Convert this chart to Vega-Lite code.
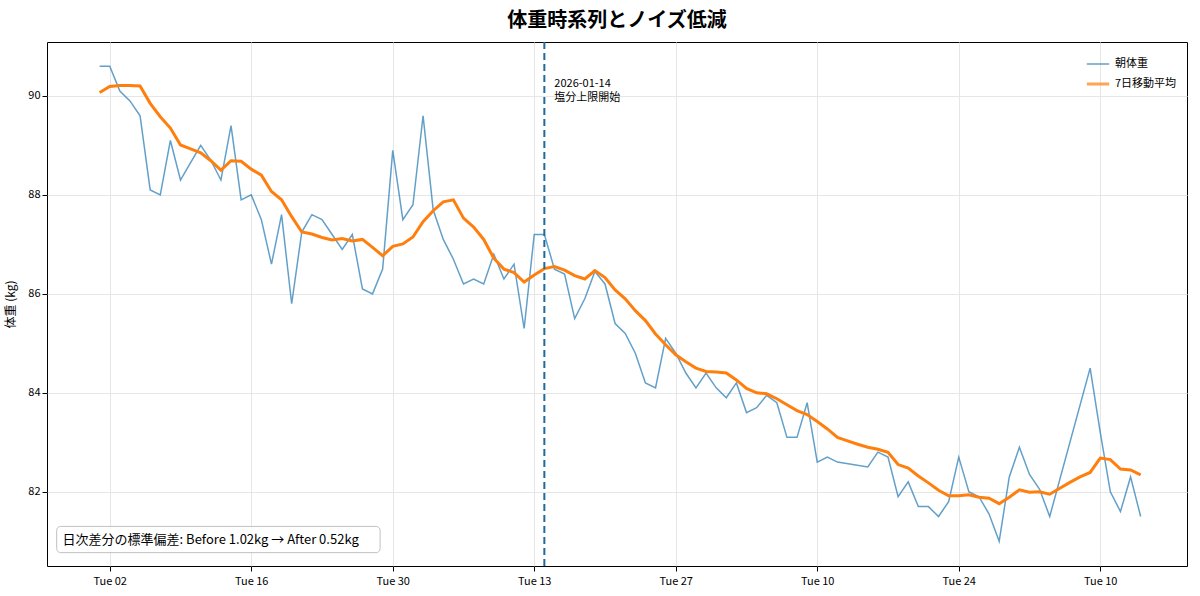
{
"$schema":"https://vega.github.io/schema/vega-lite/v6.json",
"width":1140,"height":524,
"autosize":{"type":"none"},
"padding":{"left":47,"top":42,"right":13,"bottom":30},
"background":"white",
"config":{"font":"Noto Sans CJK JP","view":{"stroke":"black","strokeWidth":1}},
"title":{"text":"体重時系列とノイズ低減","fontSize":20,"fontWeight":"bold","font":"Noto Sans CJK JP","offset":10,"color":"black"},
"datasets":{
"w":[
{"d":"2025-12-01","v":90.6},{"d":"2025-12-02","v":90.6},{"d":"2025-12-03","v":90.1},{"d":"2025-12-04","v":89.9},{"d":"2025-12-05","v":89.6},{"d":"2025-12-06","v":88.1},{"d":"2025-12-07","v":88.0},{"d":"2025-12-08","v":89.1},{"d":"2025-12-09","v":88.3},{"d":"2025-12-10","v":88.65},{"d":"2025-12-11","v":89.0},{"d":"2025-12-12","v":88.7},{"d":"2025-12-13","v":88.3},{"d":"2025-12-14","v":89.4},{"d":"2025-12-15","v":87.9},{"d":"2025-12-16","v":88.0},{"d":"2025-12-17","v":87.5},{"d":"2025-12-18","v":86.6},{"d":"2025-12-19","v":87.6},{"d":"2025-12-20","v":85.8},{"d":"2025-12-21","v":87.25},{"d":"2025-12-22","v":87.6},{"d":"2025-12-23","v":87.5},{"d":"2025-12-24","v":87.2},{"d":"2025-12-25","v":86.9},{"d":"2025-12-26","v":87.2},{"d":"2025-12-27","v":86.1},{"d":"2025-12-28","v":86.0},{"d":"2025-12-29","v":86.5},{"d":"2025-12-30","v":88.9},{"d":"2025-12-31","v":87.5},{"d":"2026-01-01","v":87.8},{"d":"2026-01-02","v":89.6},{"d":"2026-01-03","v":87.7},{"d":"2026-01-04","v":87.1},{"d":"2026-01-05","v":86.7},{"d":"2026-01-06","v":86.2},{"d":"2026-01-07","v":86.3},{"d":"2026-01-08","v":86.2},{"d":"2026-01-09","v":86.8},{"d":"2026-01-10","v":86.3},{"d":"2026-01-11","v":86.6},{"d":"2026-01-12","v":85.3},{"d":"2026-01-13","v":87.2},{"d":"2026-01-14","v":87.2},{"d":"2026-01-15","v":86.5},{"d":"2026-01-16","v":86.4},{"d":"2026-01-17","v":85.5},{"d":"2026-01-18","v":85.9},{"d":"2026-01-19","v":86.45},{"d":"2026-01-20","v":86.2},{"d":"2026-01-21","v":85.4},{"d":"2026-01-22","v":85.2},{"d":"2026-01-23","v":84.8},{"d":"2026-01-24","v":84.2},{"d":"2026-01-25","v":84.1},{"d":"2026-01-26","v":85.1},{"d":"2026-01-27","v":84.8},{"d":"2026-01-28","v":84.4},{"d":"2026-01-29","v":84.1},{"d":"2026-01-30","v":84.4},{"d":"2026-01-31","v":84.1},{"d":"2026-02-01","v":83.9},{"d":"2026-02-02","v":84.2},{"d":"2026-02-03","v":83.6},{"d":"2026-02-04","v":83.7},{"d":"2026-02-05","v":83.95},{"d":"2026-02-06","v":83.8},{"d":"2026-02-07","v":83.1},{"d":"2026-02-08","v":83.1},{"d":"2026-02-09","v":83.8},{"d":"2026-02-10","v":82.6},{"d":"2026-02-11","v":82.7},{"d":"2026-02-12","v":82.6},{"d":"2026-02-15","v":82.5},{"d":"2026-02-16","v":82.8},{"d":"2026-02-17","v":82.7},{"d":"2026-02-18","v":81.9},{"d":"2026-02-19","v":82.2},{"d":"2026-02-20","v":81.7},{"d":"2026-02-21","v":81.7},{"d":"2026-02-22","v":81.5},{"d":"2026-02-23","v":81.8},{"d":"2026-02-24","v":82.7},{"d":"2026-02-25","v":82.0},{"d":"2026-02-26","v":81.9},{"d":"2026-02-27","v":81.55},{"d":"2026-02-28","v":81.0},{"d":"2026-03-01","v":82.3},{"d":"2026-03-02","v":82.9},{"d":"2026-03-03","v":82.35},{"d":"2026-03-04","v":82.05},{"d":"2026-03-05","v":81.5},{"d":"2026-03-09","v":84.5},{"d":"2026-03-10","v":83.2},{"d":"2026-03-11","v":82.0},{"d":"2026-03-12","v":81.6},{"d":"2026-03-13","v":82.3},{"d":"2026-03-14","v":81.5}
],
"m":[
{"d":"2025-12-01","v":90.07},{"d":"2025-12-02","v":90.19},{"d":"2025-12-03","v":90.21},{"d":"2025-12-04","v":90.21},{"d":"2025-12-05","v":90.2},{"d":"2025-12-06","v":89.85},{"d":"2025-12-07","v":89.58},{"d":"2025-12-08","v":89.35},{"d":"2025-12-09","v":89.01},{"d":"2025-12-10","v":88.93},{"d":"2025-12-11","v":88.85},{"d":"2025-12-12","v":88.69},{"d":"2025-12-13","v":88.5},{"d":"2025-12-14","v":88.69},{"d":"2025-12-15","v":88.68},{"d":"2025-12-16","v":88.52},{"d":"2025-12-17","v":88.4},{"d":"2025-12-18","v":88.07},{"d":"2025-12-19","v":87.9},{"d":"2025-12-20","v":87.56},{"d":"2025-12-21","v":87.25},{"d":"2025-12-22","v":87.21},{"d":"2025-12-23","v":87.14},{"d":"2025-12-24","v":87.09},{"d":"2025-12-25","v":87.12},{"d":"2025-12-26","v":87.07},{"d":"2025-12-27","v":87.1},{"d":"2025-12-28","v":86.94},{"d":"2025-12-29","v":86.77},{"d":"2025-12-30","v":86.96},{"d":"2025-12-31","v":87.01},{"d":"2026-01-01","v":87.15},{"d":"2026-01-02","v":87.46},{"d":"2026-01-03","v":87.68},{"d":"2026-01-04","v":87.86},{"d":"2026-01-05","v":87.9},{"d":"2026-01-06","v":87.53},{"d":"2026-01-07","v":87.35},{"d":"2026-01-08","v":87.1},{"d":"2026-01-09","v":86.72},{"d":"2026-01-10","v":86.5},{"d":"2026-01-11","v":86.43},{"d":"2026-01-12","v":86.24},{"d":"2026-01-13","v":86.38},{"d":"2026-01-14","v":86.51},{"d":"2026-01-15","v":86.55},{"d":"2026-01-16","v":86.48},{"d":"2026-01-17","v":86.37},{"d":"2026-01-18","v":86.3},{"d":"2026-01-19","v":86.47},{"d":"2026-01-20","v":86.33},{"d":"2026-01-21","v":86.08},{"d":"2026-01-22","v":85.9},{"d":"2026-01-23","v":85.66},{"d":"2026-01-24","v":85.46},{"d":"2026-01-25","v":85.19},{"d":"2026-01-26","v":84.97},{"d":"2026-01-27","v":84.77},{"d":"2026-01-28","v":84.63},{"d":"2026-01-29","v":84.5},{"d":"2026-01-30","v":84.43},{"d":"2026-01-31","v":84.42},{"d":"2026-02-01","v":84.4},{"d":"2026-02-02","v":84.26},{"d":"2026-02-03","v":84.09},{"d":"2026-02-04","v":84.0},{"d":"2026-02-05","v":83.98},{"d":"2026-02-06","v":83.88},{"d":"2026-02-07","v":83.76},{"d":"2026-02-08","v":83.64},{"d":"2026-02-09","v":83.56},{"d":"2026-02-10","v":83.42},{"d":"2026-02-11","v":83.27},{"d":"2026-02-12","v":83.1},{"d":"2026-02-13","v":83.03},{"d":"2026-02-14","v":82.96},{"d":"2026-02-15","v":82.9},{"d":"2026-02-16","v":82.86},{"d":"2026-02-17","v":82.8},{"d":"2026-02-18","v":82.55},{"d":"2026-02-19","v":82.48},{"d":"2026-02-20","v":82.32},{"d":"2026-02-21","v":82.18},{"d":"2026-02-22","v":82.03},{"d":"2026-02-23","v":81.92},{"d":"2026-02-24","v":81.92},{"d":"2026-02-25","v":81.94},{"d":"2026-02-26","v":81.89},{"d":"2026-02-27","v":81.87},{"d":"2026-02-28","v":81.76},{"d":"2026-03-01","v":81.89},{"d":"2026-03-02","v":82.04},{"d":"2026-03-03","v":81.99},{"d":"2026-03-04","v":82.0},{"d":"2026-03-05","v":81.95},{"d":"2026-03-06","v":82.07},{"d":"2026-03-07","v":82.19},{"d":"2026-03-08","v":82.3},{"d":"2026-03-09","v":82.39},{"d":"2026-03-10","v":82.68},{"d":"2026-03-11","v":82.65},{"d":"2026-03-12","v":82.46},{"d":"2026-03-13","v":82.44},{"d":"2026-03-14","v":82.34}
],
"ann":[{"d":"2026-01-14","t1":"2026-01-14","t2":"塩分上限開始","bx1":"2025-11-26T18:00:00Z","bx2":"2025-12-28T18:00:00Z","tx":"2025-11-27T08:00:00Z","note":"日次差分の標準偏差: Before 1.02kg → After 0.52kg"}]
},
"layer":[
{"data":{"name":"w"},"transform":[{"calculate":"'朝体重'","as":"s"}],"mark":{"type":"line","opacity":0.7},
"encoding":{
"x":{"field":"d","type":"temporal","scale":{"type":"utc","domain":["2025-11-25T19:00:00Z","2026-03-18T14:00:00Z"]},
"axis":{"title":null,"format":"%m/%d","formatType":"utc","values":["2025-12-02T00:00:00Z","2025-12-16T00:00:00Z","2025-12-30T00:00:00Z","2026-01-13T00:00:00Z","2026-01-27T00:00:00Z","2026-02-10T00:00:00Z","2026-02-24T00:00:00Z","2026-03-10T00:00:00Z"],"labelFontSize":11,"labelColor":"black","tickColor":"black","domain":false,"gridColor":"#e6e6e6","labelPadding":4}},
"y":{"field":"v","type":"quantitative","scale":{"domain":[80.5,91.09],"zero":false,"nice":false},
"axis":{"title":"体重 (kg)","titleFontSize":12,"titleFontWeight":"normal","titleColor":"black","values":[82,84,86,88,90],"labelFontSize":11,"labelColor":"black","tickColor":"black","domain":false,"gridColor":"#e6e6e6","titlePadding":10}},
"color":{"field":"s","type":"nominal","scale":{"domain":["朝体重","7日移動平均"],"range":["#1f77b4","#ff7f0e"]},"legend":{"title":null,"orient":"top-right","symbolType":"stroke","labelFontSize":11,"symbolSize":500,"offset":10}},
"strokeWidth":{"field":"s","type":"nominal","scale":{"domain":["朝体重","7日移動平均"],"range":[1.5,3]},"legend":{"title":null,"orient":"top-right","symbolType":"stroke","labelFontSize":11,"symbolSize":500,"offset":10}}}},
{"data":{"name":"m"},"transform":[{"calculate":"'7日移動平均'","as":"s"}],"mark":{"type":"line"},
"encoding":{"x":{"field":"d","type":"temporal"},"y":{"field":"v","type":"quantitative"},"color":{"field":"s","type":"nominal"},"strokeWidth":{"field":"s","type":"nominal"}}},
{"data":{"name":"ann"},"mark":{"type":"rule","color":"#1f6a9a","strokeWidth":2,"strokeDash":[7,4]},"encoding":{"x":{"field":"d","type":"temporal"}}},
{"data":{"name":"ann"},"mark":{"type":"text","align":"left","baseline":"middle","dx":10,"fontSize":11,"color":"black"},"encoding":{"x":{"field":"d","type":"temporal"},"y":{"datum":90.25,"type":"quantitative"},"text":{"field":"t1"}}},
{"data":{"name":"ann"},"mark":{"type":"text","align":"left","baseline":"middle","dx":10,"fontSize":11,"color":"black"},"encoding":{"x":{"field":"d","type":"temporal"},"y":{"datum":89.95,"type":"quantitative"},"text":{"field":"t2"}}},
{"data":{"name":"ann"},"mark":{"type":"rect","fill":"white","stroke":"#bbbbbb","cornerRadius":4,"opacity":0.9},"encoding":{"x":{"field":"bx1","type":"temporal"},"x2":{"field":"bx2"},"y":{"datum":80.77,"type":"quantitative"},"y2":{"datum":81.3}}},
{"data":{"name":"ann"},"mark":{"type":"text","align":"left","baseline":"middle","fontSize":13,"color":"black"},"encoding":{"x":{"field":"tx","type":"temporal"},"y":{"datum":81.03,"type":"quantitative"},"text":{"field":"note"}}}
]
}
